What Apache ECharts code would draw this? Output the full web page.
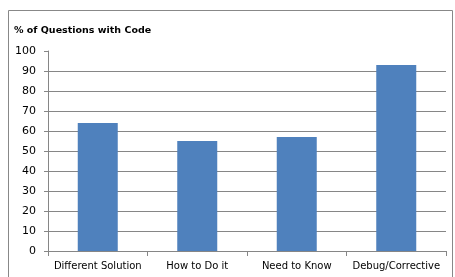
<!DOCTYPE html>
<html>
<head>
<meta charset="utf-8">
<script src="https://cdn.jsdelivr.net/npm/echarts@6/dist/echarts.min.js"></script>
<style>
  html, body { margin: 0; padding: 0; background: #fff; }
  #chart { width: 455px; height: 277px; }
</style>
</head>
<body>
<div id="chart"></div>
<script>
var categories = ['Different Solution', 'How to Do it', 'Need to Know', 'Debug/Corrective'];
var pctWithCode = [64, 55, 57, 93];
var chartTitle = '% of Questions with Code';

// gridlines from 0..100, the top one is not drawn in the original
var splitColors = [];
for (var i = 0; i < 10; i++) splitColors.push('#868686');
splitColors.push('rgba(0,0,0,0)');

var myChart = echarts.init(document.getElementById('chart'));
var option = {
    backgroundColor: '#fff',
    animation: false,
    title: {
        text: chartTitle,
        left: 14,
        top: 26,
        padding: 0,
        textStyle: {
            fontFamily: 'DejaVu Sans',
            fontSize: 9.5,
            fontWeight: 'bold',
            color: '#000'
        }
    },
    graphic: [{
        type: 'rect',
        shape: { x: 8.5, y: 10.5, width: 444, height: 280 },
        style: { fill: 'none', stroke: '#888', lineWidth: 1 },
        silent: true
    }],
    grid: { left: 48, right: 9, top: 51, bottom: 26 },
    xAxis: {
        type: 'category',
        data: categories,
        axisLine: { lineStyle: { color: '#868686' } },
        axisTick: { show: true, length: 5, lineStyle: { color: '#868686' } },
        axisLabel: {
            color: '#000',
            fontFamily: 'DejaVu Sans',
            fontSize: 10,
            margin: 10,
            interval: 0
        }
    },
    yAxis: {
        type: 'value',
        min: 0,
        max: 100,
        interval: 10,
        axisLine: { show: true, lineStyle: { color: '#868686' } },
        axisTick: { show: true, length: 4, lineStyle: { color: '#868686' } },
        axisLabel: {
            color: '#000',
            fontFamily: 'DejaVu Sans',
            fontSize: 11,
            margin: 12
        },
        splitLine: { show: true, lineStyle: { color: splitColors, width: 1 } }
    },
    series: [{
        type: 'bar',
        data: pctWithCode,
        barWidth: 40,
        itemStyle: { color: '#4f81bd' }
    }]
};
myChart.setOption(option);
</script>
</body>
</html>
